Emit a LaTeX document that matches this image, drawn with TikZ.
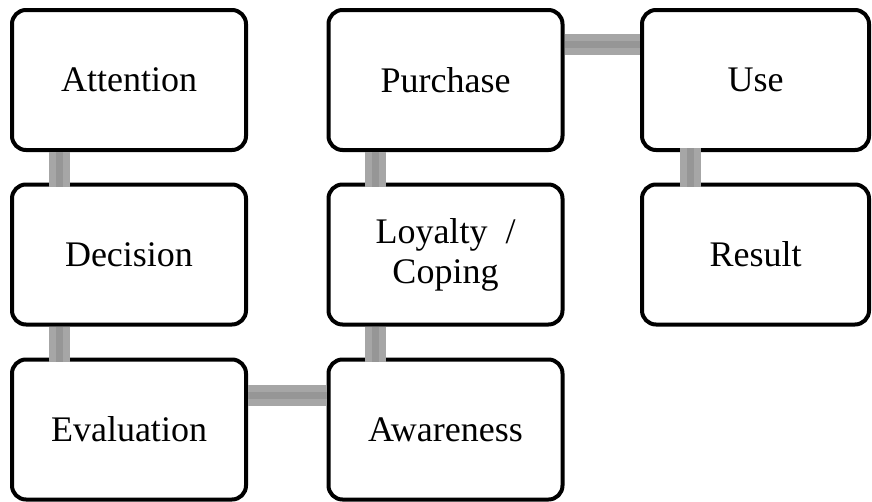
\documentclass[tikz,border=0pt]{standalone}
\usepackage{fontspec}
\setmainfont{Liberation Serif}
\begin{document}
\begin{tikzpicture}[x=1pt,y=-1pt,
  stagebox/.style={draw=black,line width=4pt,fill=white,rounded corners=14pt,
    minimum width=234pt,minimum height=140pt,inner sep=0pt,outer sep=0pt,
    align=center,font=\fontsize{36}{40}\selectfont},
  conn/.style={line width=21pt,draw={rgb,255:red,166;green,166;blue,166}},
  connmid/.style={line width=7pt,draw={rgb,255:red,150;green,150;blue,150}}]
\useasboundingbox (0,0) rectangle (872,501);
% connectors (behind boxes)
\coordinate (c1) at (59.5,0);
\coordinate (c2) at (375,0);
\coordinate (c3) at (690,0);
\coordinate (r1) at (0,44);
\coordinate (r3) at (0,395.5);
% nodes
\node[stagebox] (att) at (129,80) {Attention};
\node[stagebox] (dec) at (129,254.5) {Decision};
\node[stagebox] (eva) at (129,429.5) {Evaluation};
\node[stagebox] (pur) at (445.5,80) {Purchase};
\node[stagebox] (loy) at (445.5,254.5) {Loyalty\ \ /\\Coping};
\node[stagebox] (awa) at (445.5,429.5) {Awareness};
\node[stagebox,minimum width=227pt] (use) at (755.5,80) {Use};
\node[stagebox,minimum width=227pt] (res) at (755.5,254.5) {Result};
\begin{scope}[on background layer/.try]
\end{scope}
\foreach \s/\a/\b in {conn/att/dec,connmid/att/dec,conn/dec/eva,connmid/dec/eva}{
  \draw[\s] (\a.south -| c1) ++(0,2) -- ([yshift=-2pt]\b.north -| c1);
}
\foreach \s/\a/\b in {conn/pur/loy,connmid/pur/loy,conn/loy/awa,connmid/loy/awa}{
  \draw[\s] (\a.south -| c2) ++(0,2) -- ([yshift=-2pt]\b.north -| c2);
}
\foreach \s in {conn,connmid}{
  \draw[\s] ([yshift=2pt]use.south -| c3) -- ([yshift=-2pt]res.north -| c3);
  \draw[\s] ([xshift=2pt]eva.east |- r3) -- ([xshift=-2pt]awa.west |- r3);
  \draw[\s] ([xshift=2pt]pur.east |- r1) -- ([xshift=-2pt]use.west |- r1);
}
\end{tikzpicture}
\end{document}
